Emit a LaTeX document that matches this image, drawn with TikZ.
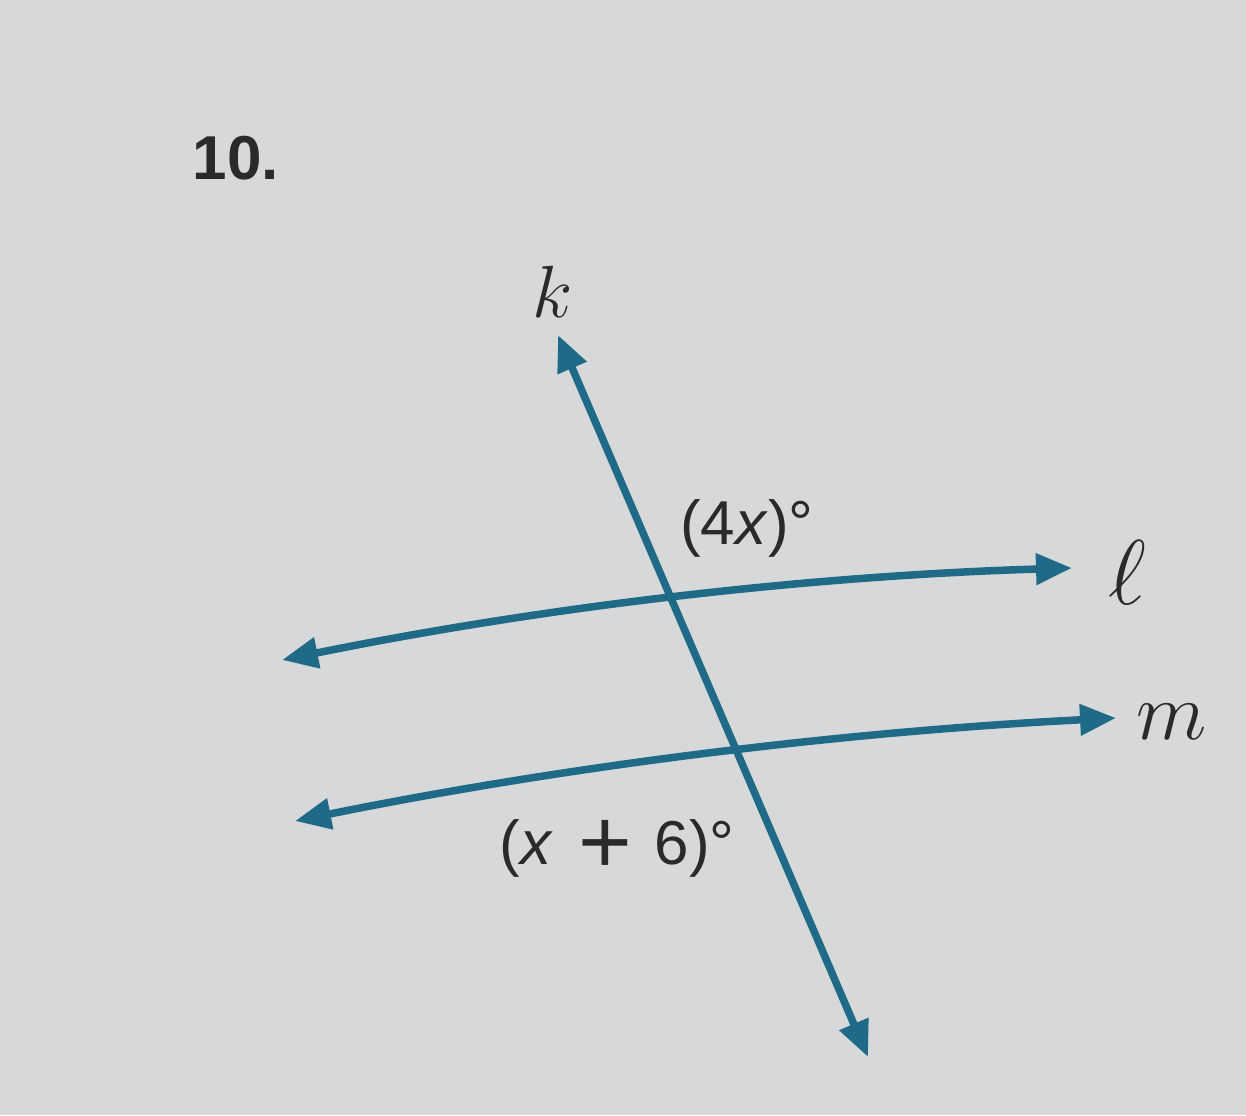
\documentclass[tikz,border=0pt]{standalone}
\usepackage{fix-cm}
\usepackage{fontspec}
\setsansfont{Liberation Sans}
\usetikzlibrary{arrows.meta}
\definecolor{paper}{HTML}{D7D8DA}
\definecolor{teal}{HTML}{1F6A86}
\definecolor{ink}{HTML}{2A2A2A}
\tikzset{
  geoline/.style={draw=teal, line width=7.5pt, {Triangle[length=36pt,width=30pt]}-{Triangle[length=36pt,width=30pt]}},
  varlabel/.style={text=ink, inner sep=0pt},
  anglabel/.style={text=ink, inner sep=0pt, font=\sffamily\fontsize{62}{62}\selectfont},
}
\begin{document}
\begin{tikzpicture}[x=1pt,y=-1pt]
\fill[paper] (0,0) rectangle (1246,1115);
\useasboundingbox (0,0) rectangle (1246,1115);
% end points
\coordinate (kt) at (558,335);
\coordinate (kb) at (868,1057);
\coordinate (la) at (282,660);
\coordinate (lb) at (1072,568);
\coordinate (ma) at (295,821);
\coordinate (mb) at (1116,718);
% lines
\draw[geoline] (la) .. controls (543,607) and (806,576) .. (lb);
\draw[geoline] (ma) .. controls (567,766) and (840,732) .. (mb);
\draw[geoline] (kt) -- (kb);
% labels
\node[text=ink, inner sep=0pt, font=\sffamily\bfseries\fontsize{62}{62}\selectfont] (num) at (236,158) {10.};
\node[varlabel, font=\fontsize{74}{74}\selectfont] (klab) at (553,292) {$k$};
\node[varlabel, font=\fontsize{92}{92}\selectfont] (llab) at (1127,573) {$\ell$};
\node[varlabel, font=\fontsize{82}{82}\selectfont] (mlab) at (1172,722) {$m$};
\node[anglabel] (a1) at (747,528) {(4\textit{x})°};
\node[anglabel] (a2) at (617,848) {(\textit{x}\hspace{26pt}\raisebox{-9pt}{\fontsize{92}{92}\selectfont+}\hspace{22pt}6)°};
\end{tikzpicture}
\end{document}
